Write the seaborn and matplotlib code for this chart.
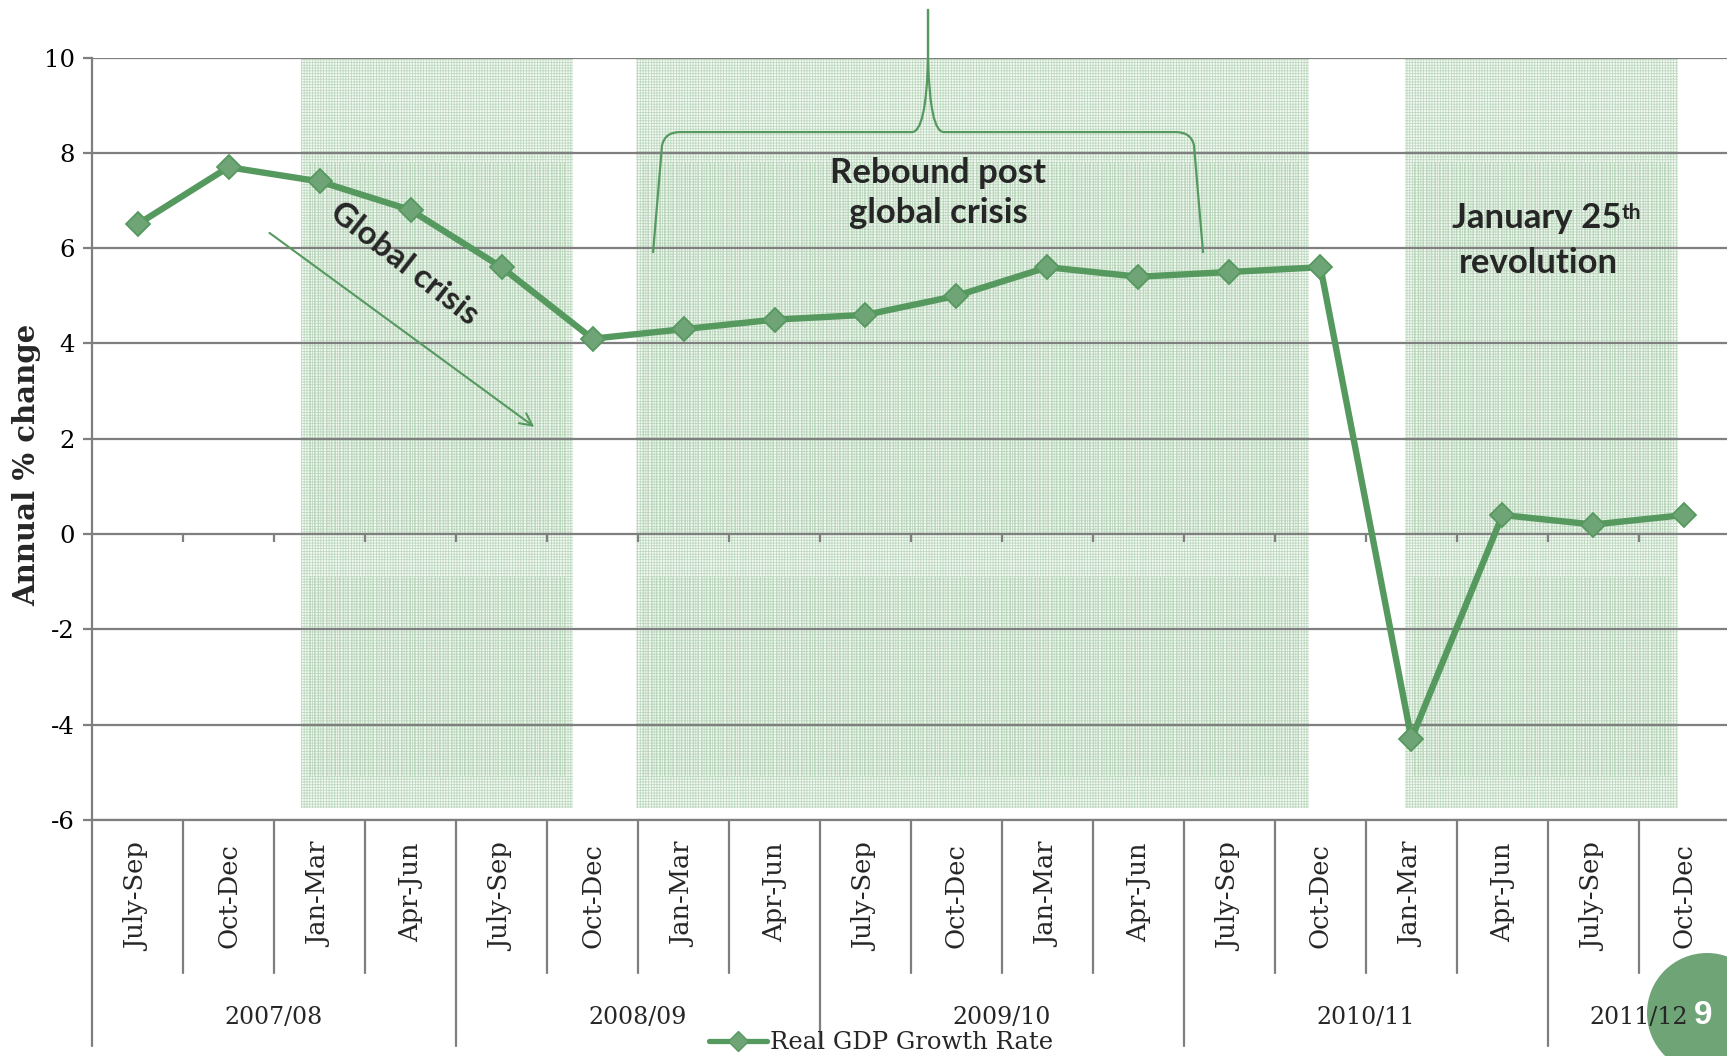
import matplotlib
matplotlib.use("Agg")
import matplotlib.pyplot as plt
import matplotlib.transforms as mtransforms
from matplotlib.path import Path
from matplotlib.patches import PathPatch, Ellipse, Rectangle
from matplotlib.lines import Line2D
import numpy as np
import pandas as pd
import seaborn as sns

# ---- data -------------------------------------------------------------
quarters = ["July-Sep", "Oct-Dec", "Jan-Mar", "Apr-Jun",
            "July-Sep", "Oct-Dec", "Jan-Mar", "Apr-Jun",
            "July-Sep", "Oct-Dec", "Jan-Mar", "Apr-Jun",
            "July-Sep", "Oct-Dec", "Jan-Mar", "Apr-Jun",
            "July-Sep", "Oct-Dec"]
fiscal_years = ["2007/08", "2008/09", "2009/10", "2010/11", "2011/12"]
quarters_per_year = [4, 4, 4, 4, 2]
gdp_growth = [6.5, 7.7, 7.4, 6.8, 5.6, 4.1, 4.3, 4.5, 4.6,
              5.0, 5.6, 5.4, 5.5, 5.6, -4.3, 0.4, 0.2, 0.4]
y_ticks = [-6, -4, -2, 0, 2, 4, 6, 8, 10]
series_name = "Real GDP Growth Rate"

df = pd.DataFrame({"pos": np.arange(len(quarters)),
                   "quarter": quarters,
                   "growth": gdp_growth})

# ---- style ------------------------------------------------------------
sns.set_theme(style="white")
plt.rcParams["font.family"] = ["DejaVu Serif", "DejaVu Sans"]
plt.rcParams["hatch.linewidth"] = 0.55
plt.rcParams["axes.unicode_minus"] = False

GREEN = "#56995f"
MARKER_FILL = "#6ea476"
GRID = "#7f7f7f"
SHADE_HATCH = "#bcd8be"
SANS = ["Lato", "DejaVu Sans"]

fig = plt.figure(figsize=(17.27, 10.56), dpi=100)
ax = fig.add_axes([0.0533, 0.2235, 0.9484, 0.7220])
ax.patch.set_alpha(0)

ax.set_xlim(-0.5, 17.5)
ax.set_ylim(-6, 10)

# shaded periods (global crisis, rebound, revolution)
for x0, x1 in [(1.80, 4.79), (5.48, 12.87), (13.93, 16.93)]:
    ax.add_patch(Rectangle((x0, -5.75), x1 - x0, 15.75, facecolor="#f4f9f4",
                           edgecolor=SHADE_HATCH, hatch="+" * 6, linewidth=0,
                           zorder=0.2))
    for y0, y1 in [(0.0, 7.8), (-5.1, -0.9)]:
        ax.add_patch(Rectangle((x0 + 0.08, y0), x1 - x0 - 0.16, y1 - y0,
                               facecolor="none", edgecolor="#b3d2b5",
                               hatch="|" * 4, linewidth=0, zorder=0.3))

# horizontal gridlines
ax.set_yticks(y_ticks)
ax.yaxis.grid(True, color=GRID, linewidth=1.6)
ax.xaxis.grid(False)
ax.set_axisbelow(True)

for side in ["top", "right"]:
    ax.spines[side].set_visible(False)
for side in ["left", "bottom"]:
    ax.spines[side].set_color(GRID)
    ax.spines[side].set_linewidth(1.6)

ax.tick_params(axis="y", which="both", left=True, length=6.5, width=1.6,
               color=GRID, direction="out", labelsize=17.5, pad=6,
               labelcolor="black")
ax.set_xticks([])

# the line itself
sns.lineplot(data=df, x="pos", y="growth", ax=ax, color=GREEN, linewidth=4.6,
             marker="D", markersize=12.5, markerfacecolor=MARKER_FILL,
             markeredgecolor=GREEN, markeredgewidth=1.3, legend=False,
             zorder=5)

ax.set_xlabel("")
ax.set_ylabel("Annual % change", fontsize=21, fontweight="bold")
ax.yaxis.set_label_coords(-0.031, 0.466)

# small ticks hanging from the zero line at the quarter boundaries
bounds = np.arange(len(quarters) - 1) + 0.5
ax.vlines(bounds, -0.16, 0, color=GRID, linewidth=1.6, zorder=1)

# multi-level category axis below the plot
trans = mtransforms.blended_transform_factory(ax.transData, ax.transAxes)
for i, q in enumerate(quarters):
    ax.text(i, -0.030, q, transform=trans, rotation=90, ha="center",
            va="top", fontsize=18.5)
year_edges = np.concatenate([[0], np.cumsum(quarters_per_year)]) - 0.5
for b in bounds:
    is_year_edge = np.any(np.isclose(year_edges, b))
    ax.plot([b, b], [0, -0.2964 if is_year_edge else -0.2007],
            transform=trans, color=GRID, linewidth=1.6, clip_on=False)
ax.plot([-0.5, -0.5], [0, -0.2964], transform=trans, color=GRID,
        linewidth=1.6, clip_on=False)
for k, fy in enumerate(fiscal_years):
    xc = (year_edges[k] + year_edges[k + 1]) / 2
    ax.text(xc, -0.2597, fy, transform=trans, ha="center", va="center",
            fontsize=17, zorder=6)

# annotations
ax.text(2.93, 5.67, "Global crisis", rotation=-38, ha="center", va="center",
        fontsize=24, fontweight="bold", family=SANS, zorder=6)
ax.annotate("", xy=(4.36, 2.25), xytext=(1.45, 6.32),
            arrowprops=dict(arrowstyle="->", color=GREEN, lw=1.5,
                            mutation_scale=22, shrinkA=0, shrinkB=0),
            zorder=6)

ax.text(8.80, 7.16, "Rebound post\nglobal crisis", ha="center", va="center",
        fontsize=25, fontweight="bold", family=SANS, linespacing=1.3,
        zorder=6)

rev_main = ax.text(15.38, 6.63, "January 25", ha="center", va="center",
                   fontsize=25, fontweight="bold", family=SANS, zorder=6)
ax.annotate("th", xy=(1.0, 0.97), xycoords=rev_main, ha="left", va="top",
            fontsize=15, fontweight="bold", family=SANS, zorder=6)
ax.text(15.40, 5.69, "revolution", ha="center", va="center",
        fontsize=25, fontweight="bold", family=SANS, zorder=6)

# curly bracket over the rebound period
C = Path.CURVE3
left_brace = Path([(5.665, 5.90), (5.764, 8.16), (5.797, 8.436), (5.96, 8.436),
                   (8.51, 8.436), (8.665, 8.436), (8.687, 9.95), (8.687, 11.02)],
                  [Path.MOVETO, Path.LINETO, C, C, Path.LINETO, C, C, Path.LINETO])
right_brace = Path([(11.71, 5.90), (11.61, 8.16), (11.577, 8.436), (11.41, 8.436),
                    (8.86, 8.436), (8.71, 8.436), (8.687, 9.95), (8.687, 11.02)],
                   [Path.MOVETO, Path.LINETO, C, C, Path.LINETO, C, C, Path.LINETO])
for p in (left_brace, right_brace):
    ax.add_patch(PathPatch(p, facecolor="none", edgecolor=GREEN, linewidth=1.6,
                           clip_on=False, zorder=6))

# legend
handle = Line2D([], [], color=GREEN, linewidth=3.8, marker="D", markersize=10,
                markerfacecolor=MARKER_FILL, markeredgecolor=GREEN)
fig.legend([handle], [series_name], loc="center",
           bbox_to_anchor=(0.51, 0.0125), frameon=False, fontsize=17.5,
           handlelength=2.4, handletextpad=0.12, borderpad=0)

# page number badge
fig.add_artist(Ellipse((1707 / 1727, 1 - 1013 / 1056), 120 / 1727, 120 / 1056,
                       transform=fig.transFigure, facecolor="#6fa477",
                       edgecolor="none", zorder=-1))
fig.text(1703 / 1727, 1 - 1015 / 1056, "9", ha="center", va="center",
         color="white", fontsize=24, fontweight="bold",
         family=["Liberation Sans", "DejaVu Sans"])

fig.savefig("out.png", dpi=100)
